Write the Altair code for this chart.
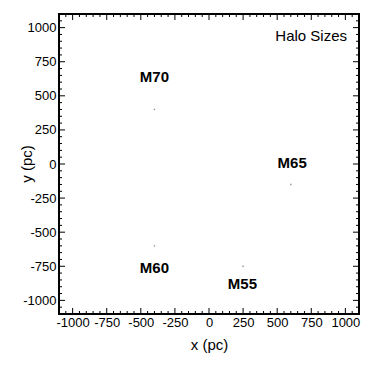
import altair as alt
import pandas as pd

names = ["M70", "M65", "M60", "M55"]
px = [-400, 600, -400, 250]
py = [400, -150, -600, -750]
lx = [-400, 610, -400, 245]
ly = [635, 5, -765, -880]

major = [-1000, -750, -500, -250, 0, 250, 500, 750, 1000]
minor = [v for v in range(-1050, 1100, 50) if v % 250 != 0]

DOM = [-1100, 1100]
W = H = 300
FONT = "Liberation Sans"

pts = pd.DataFrame({"x": px, "y": py})
labs = pd.DataFrame({"x": lx, "y": ly, "name": names})
majdf = pd.DataFrame({"v": major})
mindf = pd.DataFrame({"v": minor})

xs = alt.Scale(domain=DOM, nice=False, zero=False)
ys = alt.Scale(domain=DOM, nice=False, zero=False)

def mk_axis(title, tpad, lpad):
    return alt.Axis(values=major, labelExpr="toString(datum.value)", tickSize=0, domain=False,
                    grid=False, labelFont=FONT, labelFontSize=13, labelColor="black",
                    labelPadding=lpad, labelOverlap=False, labelFlush=False, title=title,
                    titleFont=FONT, titleFontSize=15, titleFontWeight="normal",
                    titleColor="black", titlePadding=tpad)

xaxis = mk_axis("x (pc)", 8, 2)
yaxis = mk_axis(None, 4, 3)

def X(f):
    return alt.X(f, type="quantitative", scale=xs, axis=xaxis)

def Y(f):
    return alt.Y(f, type="quantitative", scale=ys, axis=yaxis)

base_pts = alt.Chart(pts).mark_point(shape="square", size=2, filled=True, color="#666666").encode(
    x=X("x"), y=Y("y"),
)

text = alt.Chart(labs).mark_text(font=FONT, fontSize=15, fontWeight="bold", color="black").encode(
    x=X("x"), y=Y("y"), text="name:N"
)

title = alt.Chart(pd.DataFrame({"t": ["Halo Sizes"]})).mark_text(
    font=FONT, fontSize=15, color="black", align="right", baseline="middle"
).encode(x=alt.value(W - 12), y=alt.value(22), text="t:N")

ytitle = alt.Chart(pd.DataFrame({"t": ["y (pc)"]})).mark_text(
    font=FONT, fontSize=15, color="black", align="center", baseline="middle", angle=270
).encode(x=alt.value(-32), y=alt.value(H / 2), text="t:N")

def ticks(df, length):
    layers = []
    sw = 1
    layers.append(alt.Chart(df).mark_rule(color="black", strokeWidth=sw).encode(
        x=X("v"), y=alt.value(H), y2=alt.value(H - length)))
    layers.append(alt.Chart(df).mark_rule(color="black", strokeWidth=sw).encode(
        x=X("v"), y=alt.value(0), y2=alt.value(length)))
    layers.append(alt.Chart(df).mark_rule(color="black", strokeWidth=sw).encode(
        y=Y("v"), x=alt.value(0), x2=alt.value(length)))
    layers.append(alt.Chart(df).mark_rule(color="black", strokeWidth=sw).encode(
        y=Y("v"), x=alt.value(W), x2=alt.value(W - length)))
    return layers

chart = alt.layer(
    base_pts, text, title, ytitle, *ticks(majdf, 6), *ticks(mindf, 3)
).properties(
    width=W, height=H,
    autosize=alt.AutoSizeParams(type="none"),
    padding={"left": 51, "top": 6, "right": 7, "bottom": 52},
).configure(background="white").configure_view(stroke="black", strokeWidth=2)

chart.save("out.html", embed_options={"renderer": "svg", "actions": False})
